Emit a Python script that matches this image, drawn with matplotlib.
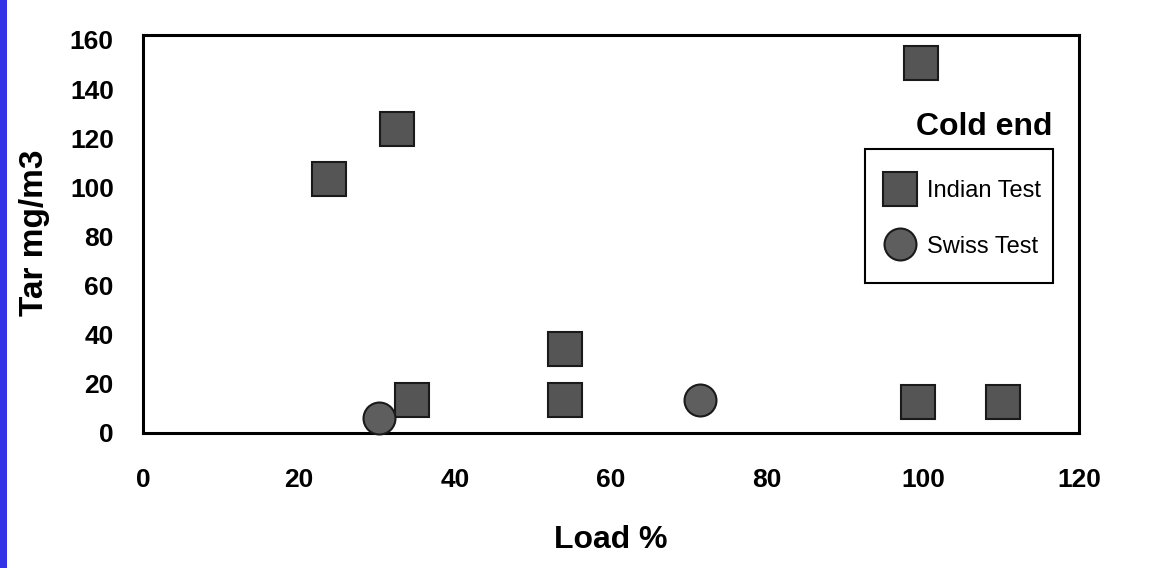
import matplotlib
matplotlib.use('Agg')
import matplotlib.pyplot as plt
from matplotlib.patches import Rectangle

plt.rcParams['font.family'] = ['Liberation Sans', 'DejaVu Sans']

# values
indian_load = [23.9, 32.6, 34.5, 54.1, 54.1, 99.7, 99.4, 110.3]
indian_tar = [103.3, 123.8, 13.4, 34.1, 13.4, 150.7, 12.6, 12.6]
swiss_load = [30.2, 71.4]
swiss_tar = [6.0, 13.4]

x_ticks = [0, 20, 40, 60, 80, 100, 120]
y_ticks = [0, 20, 40, 60, 80, 100, 120, 140, 160]

W, H = 1158, 568
fig = plt.figure(figsize=(W / 100, H / 100), dpi=100)
fig.patch.set_facecolor('white')

# blue strip at the left edge of the slide
fig.patches.append(Rectangle((0, 0), 7 / W, 1, transform=fig.transFigure,
                             facecolor='#3232e6', edgecolor='none', zorder=0))

ax = fig.add_axes([0.1235, 0.2377, 0.8083, 0.7007])

ax.plot(indian_load, indian_tar, linestyle='none', marker='s', markersize=24,
        markerfacecolor='#555555', markeredgecolor='#1a1a1a', markeredgewidth=1.5,
        label='Indian Test', clip_on=False, zorder=3)
ax.plot(swiss_load, swiss_tar, linestyle='none', marker='o', markersize=23,
        markerfacecolor='#5e5e5e', markeredgecolor='#1a1a1a', markeredgewidth=1.5,
        label='Swiss Test', clip_on=False, zorder=3)

ax.set_xlim(0, 120)
ax.set_ylim(0, 162)
ax.set_xticks(x_ticks)
ax.set_yticks(y_ticks)
ax.tick_params(axis='both', length=0, labelsize=19)
ax.tick_params(axis='x', pad=25)
ax.tick_params(axis='y', pad=21)
for lbl in ax.get_xticklabels() + ax.get_yticklabels():
    lbl.set_fontweight('bold')

for sp in ax.spines.values():
    sp.set_linewidth(2.2)
    sp.set_color('black')

ax.set_xlabel('Load %', fontsize=23, fontweight='bold', labelpad=24)
fig.text(35 / W, 1 - 233 / H, 'Tar mg/m3', rotation=90, fontsize=24,
         fontweight='bold', ha='center', va='center')

fig.text(1052 / W, 1 - 127 / H, 'Cold end', fontsize=23, fontweight='bold',
         ha='right', va='center')

# legend box drawn separately so its padding matches the scan
box = Rectangle((865 / W, 1 - 283 / H), 188 / W, 134 / H,
                transform=fig.transFigure, facecolor='white',
                edgecolor='black', linewidth=1.5, zorder=4, clip_on=False)
ax.add_patch(box)
leg = ax.legend(loc='upper left', bbox_to_anchor=(886 / W, 1 - 180 / H),
                bbox_transform=fig.transFigure, fontsize=17, frameon=False,
                handlelength=1.2, handletextpad=0.55, labelspacing=1.42,
                borderpad=0, borderaxespad=0)
leg.set_zorder(5)

fig.savefig('out.png', dpi=100)
